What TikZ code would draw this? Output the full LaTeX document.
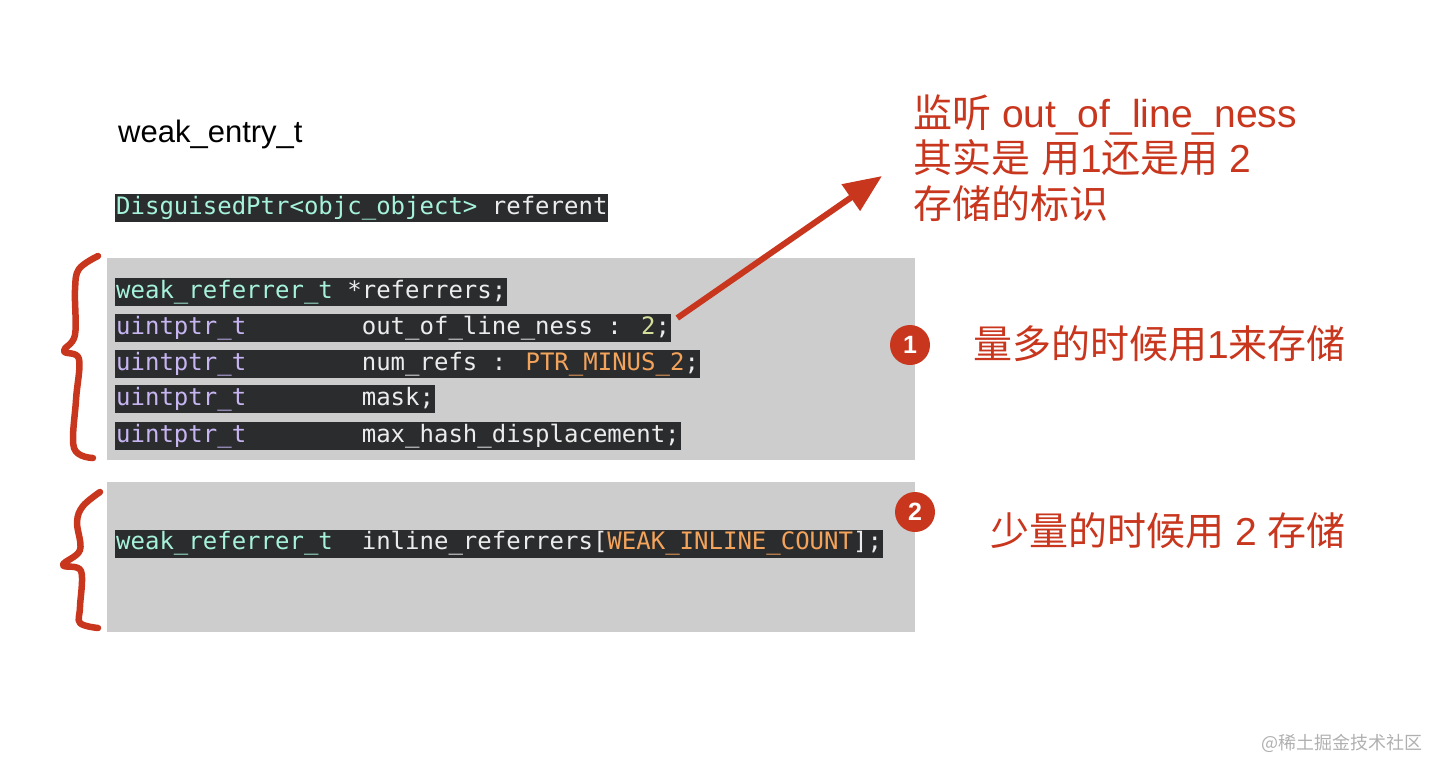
\documentclass[tikz,border=0pt]{standalone}
\usepackage{fontspec}
\usepackage{xcolor}
\usepackage{tikz}
\usetikzlibrary{arrows.meta, positioning, calc}
\setmainfont{Liberation Sans}
\newfontfamily\codefont{DejaVu Sans Mono}
\newfontfamily\cjk{Noto Sans CJK SC}

\definecolor{codebg}{HTML}{2A2C2E}
\definecolor{typegreen}{HTML}{A6F2DA}
\definecolor{typepurple}{HTML}{C7B5F2}
\definecolor{identwhite}{HTML}{ECECEC}
\definecolor{numyellow}{HTML}{D6DE9C}
\definecolor{constorange}{HTML}{F4A35B}
\definecolor{panelgray}{HTML}{CDCDCD}
\definecolor{markred}{HTML}{C8361E}
\definecolor{markgray}{HTML}{B0B0B0}

\newcommand{\tyg}[1]{\textcolor{typegreen}{#1}}
\newcommand{\typ}[1]{\textcolor{typepurple}{#1}}
\newcommand{\codenum}[1]{\textcolor{numyellow}{#1}}
\newcommand{\cst}[1]{\textcolor{constorange}{#1}}
\newcommand{\pad}[1]{\hspace*{#1\fontcharwd\font32\relax}}
\newcommand{\zh}[1]{{\cjk #1}}

\tikzstyle{panel} = [rectangle, fill=panelgray, draw=none, anchor=north west, inner sep=0pt]
\tikzstyle{codeline} = [rectangle, fill=codebg, anchor=west, inner xsep=1pt, inner ysep=2pt, text height=18pt, text depth=6pt, font=\codefont\fontsize{24}{28}\selectfont, text=identwhite]
\tikzstyle{hint} = [anchor=base west, inner sep=0pt, text=markred, font=\fontsize{39}{45}\selectfont]
\tikzstyle{note} = [anchor=west, inner sep=0pt, text=markred, font=\fontsize{39}{45}\selectfont]
\tikzstyle{badge} = [circle, fill=markred, text=white, minimum size=40pt, inner sep=0pt, font=\fontsize{25}{25}\selectfont\bfseries]
\tikzstyle{brace} = [draw=markred, line width=6.5pt, line cap=round, line join=round]
\tikzstyle{arrow} = [draw=markred, line width=6pt, -{Triangle[length=38pt,width=31pt]}]

\begin{document}
\begin{tikzpicture}[x=1pt, y=-1pt]
    \useasboundingbox (0,0) rectangle (1444,774);

    \node (title) [anchor=base west, inner sep=0pt, font=\fontsize{31}{37}\selectfont] at (118,142) {weak\_entry\_t};
    \node (referent) [codeline] at (115,208) {\tyg{DisguisedPtr<objc\_object>} referent};

    % out-of-line storage
    \node (upper) [panel, minimum width=808pt, minimum height=202pt] at (107,258) {};
    \node (refs) [codeline] at (115,292) {\tyg{weak\_referrer\_t} *referrers;};
    \node (ooln) [codeline] at (115,328) {\typ{uintptr\_t}\pad{8}out\_of\_line\_ness : \codenum{2};};
    \node (numrefs) [codeline] at (115,364) {\typ{uintptr\_t}\pad{8}num\_refs : \cst{PTR\_MINUS\_2};};
    \node (mask) [codeline] at (115,399) {\typ{uintptr\_t}\pad{8}mask;};
    \node (maxhash) [codeline] at (115,436) {\typ{uintptr\_t}\pad{8}max\_hash\_displacement;};

    % inline storage
    \node (lower) [panel, minimum width=808pt, minimum height=150pt] at (107,482) {};
    \node (inline) [codeline] at (115,543.5) {\tyg{weak\_referrer\_t}\pad{2}inline\_referrers[\cst{WEAK\_INLINE\_COUNT}];};

    % remarks
    \node (hintA) [hint] at (913,127) {\zh{监听} out\_of\_line\_ness};
    \node (hintB) [hint] at (913,172.5) {\zh{其实是} \zh{用}1\zh{还是用} 2};
    \node (hintC) [hint] at (913,218) {\zh{存储的标识}};

    \node (one) [badge] at (910,345) {1};
    \node (many) [note] at (973,344) {\zh{量多的时候用}1\zh{来存储}};
    \node (two) [badge] at (915,512) {2};
    \node (few) [note] at (990,531) {\zh{少量的时候用} 2 \zh{存储}};

    \node (mark) [anchor=west, inner sep=0pt, text=markgray, font=\cjk\fontsize{18}{18}\selectfont] at (1261,743) {@稀土掘金技术社区};

    \coordinate (tail) at ($(ooln.east)+(6,-10)$);
    \coordinate (head) at ($(hintB.base west)+(-31,3.5)$);
    \draw [arrow] (tail) -- (head);

    \draw [brace] plot[smooth, tension=0.6] coordinates {(98,256) (79,269) (75,290) (75,335) (64,351) (79,359) (76,400) (74,448) (93,458)};
    \draw [brace] plot[smooth, tension=0.6] coordinates {(100,492) (83,506) (77,522) (80,550) (63,565) (81,571) (80,607) (80,623) (98,628)};
\end{tikzpicture}
\end{document}
